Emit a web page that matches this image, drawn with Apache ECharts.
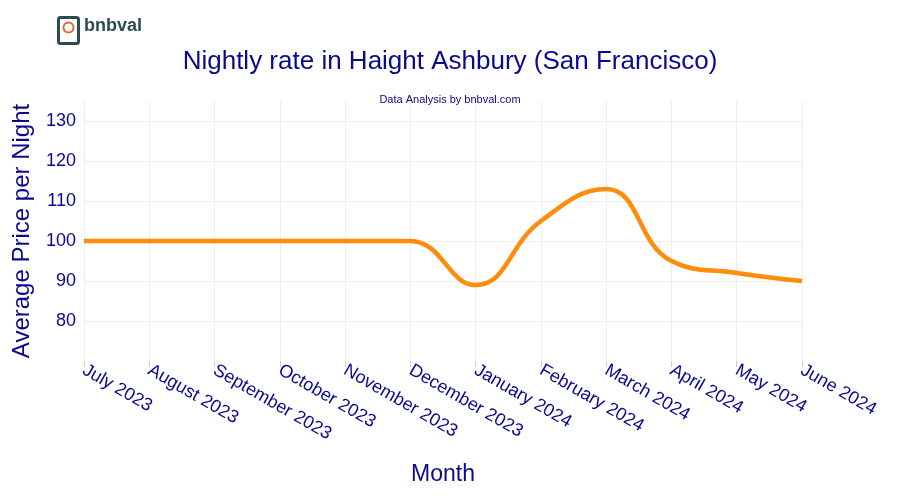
<!DOCTYPE html>
<html>
<head>
<meta charset="utf-8">
<script src="https://cdn.jsdelivr.net/npm/echarts@6/dist/echarts.min.js"></script>
<style>
html, body { margin:0; width:100%; height:100%; background:#fff; }
#main { width:900px; height:500px; }
</style>
</head>
<body>
<div id="main"></div>
<script>
var months = ['July 2023','August 2023','September 2023','October 2023','November 2023','December 2023',
              'January 2024','February 2024','March 2024','April 2024','May 2024','June 2024'];
var prices = [100, 100, 100, 100, 100, 100, 89, 105, 113, 95, 92, 90];

var navy = '#0a0a8c';
var chart = echarts.init(document.getElementById('main'));
chart.setOption({
    textStyle: { fontFamily: 'Liberation Sans, Arial, sans-serif' },
    title: [
        { text: 'Nightly rate in Haight Ashbury (San Francisco)', left: 'center', top: 44,
          textStyle: { color: navy, fontSize: 26, fontWeight: 'normal' } },
        { text: 'Data Analysis by bnbval.com', left: 'center', top: 89,
          textStyle: { color: navy, fontSize: 11, fontWeight: 'normal' } }
    ],
    graphic: [
        { type: 'rect', left: 56, top: 15, shape: { width: 20, height: 26, r: 2 },
          style: { fill: 'none', stroke: '#2f4a4f', lineWidth: 3 } },
        { type: 'circle', left: 61, top: 20, shape: { r: 5 },
          style: { fill: 'none', stroke: '#e8623a', lineWidth: 2 } },
        { type: 'text', left: 84, top: 17,
          style: { text: 'bnbval', fill: '#2f4a4f', font: 'bold 18px Liberation Sans, Arial' } }
    ],
    grid: { left: 84, right: 98, top: 101, bottom: 139 },
    xAxis: {
        type: 'category', data: months, boundaryGap: false,
        name: 'Month', nameLocation: 'middle', nameGap: 102,
        nameTextStyle: { color: navy, fontSize: 23 },
        axisLine: { show: false },
        axisTick: { show: true, length: 6, lineStyle: { color: '#ccc' } },
        axisLabel: { rotate: -30, color: navy, fontSize: 18, interval: 0, margin: 8 },
        splitLine: { show: true, lineStyle: { color: '#eee' } }
    },
    yAxis: {
        type: 'value', min: 70, max: 135, interval: 10,
        name: 'Average Price per Night', nameLocation: 'middle', nameGap: 50,
        nameTextStyle: { color: navy, fontSize: 24 },
        axisLine: { show: false }, axisTick: { show: false },
        axisLabel: { color: navy, fontSize: 18, showMaxLabel: false,
                     formatter: function (v) { return v === 70 ? '' : v; } },
        splitLine: { showMinLine: false, showMaxLine: false, lineStyle: { color: '#eee' } }
    },
    series: [{
        type: 'line', data: prices, smooth: 0.45, showSymbol: false,
        lineStyle: { color: '#ff8c0a', width: 4.5 }
    }]
});
</script>
</body>
</html>
